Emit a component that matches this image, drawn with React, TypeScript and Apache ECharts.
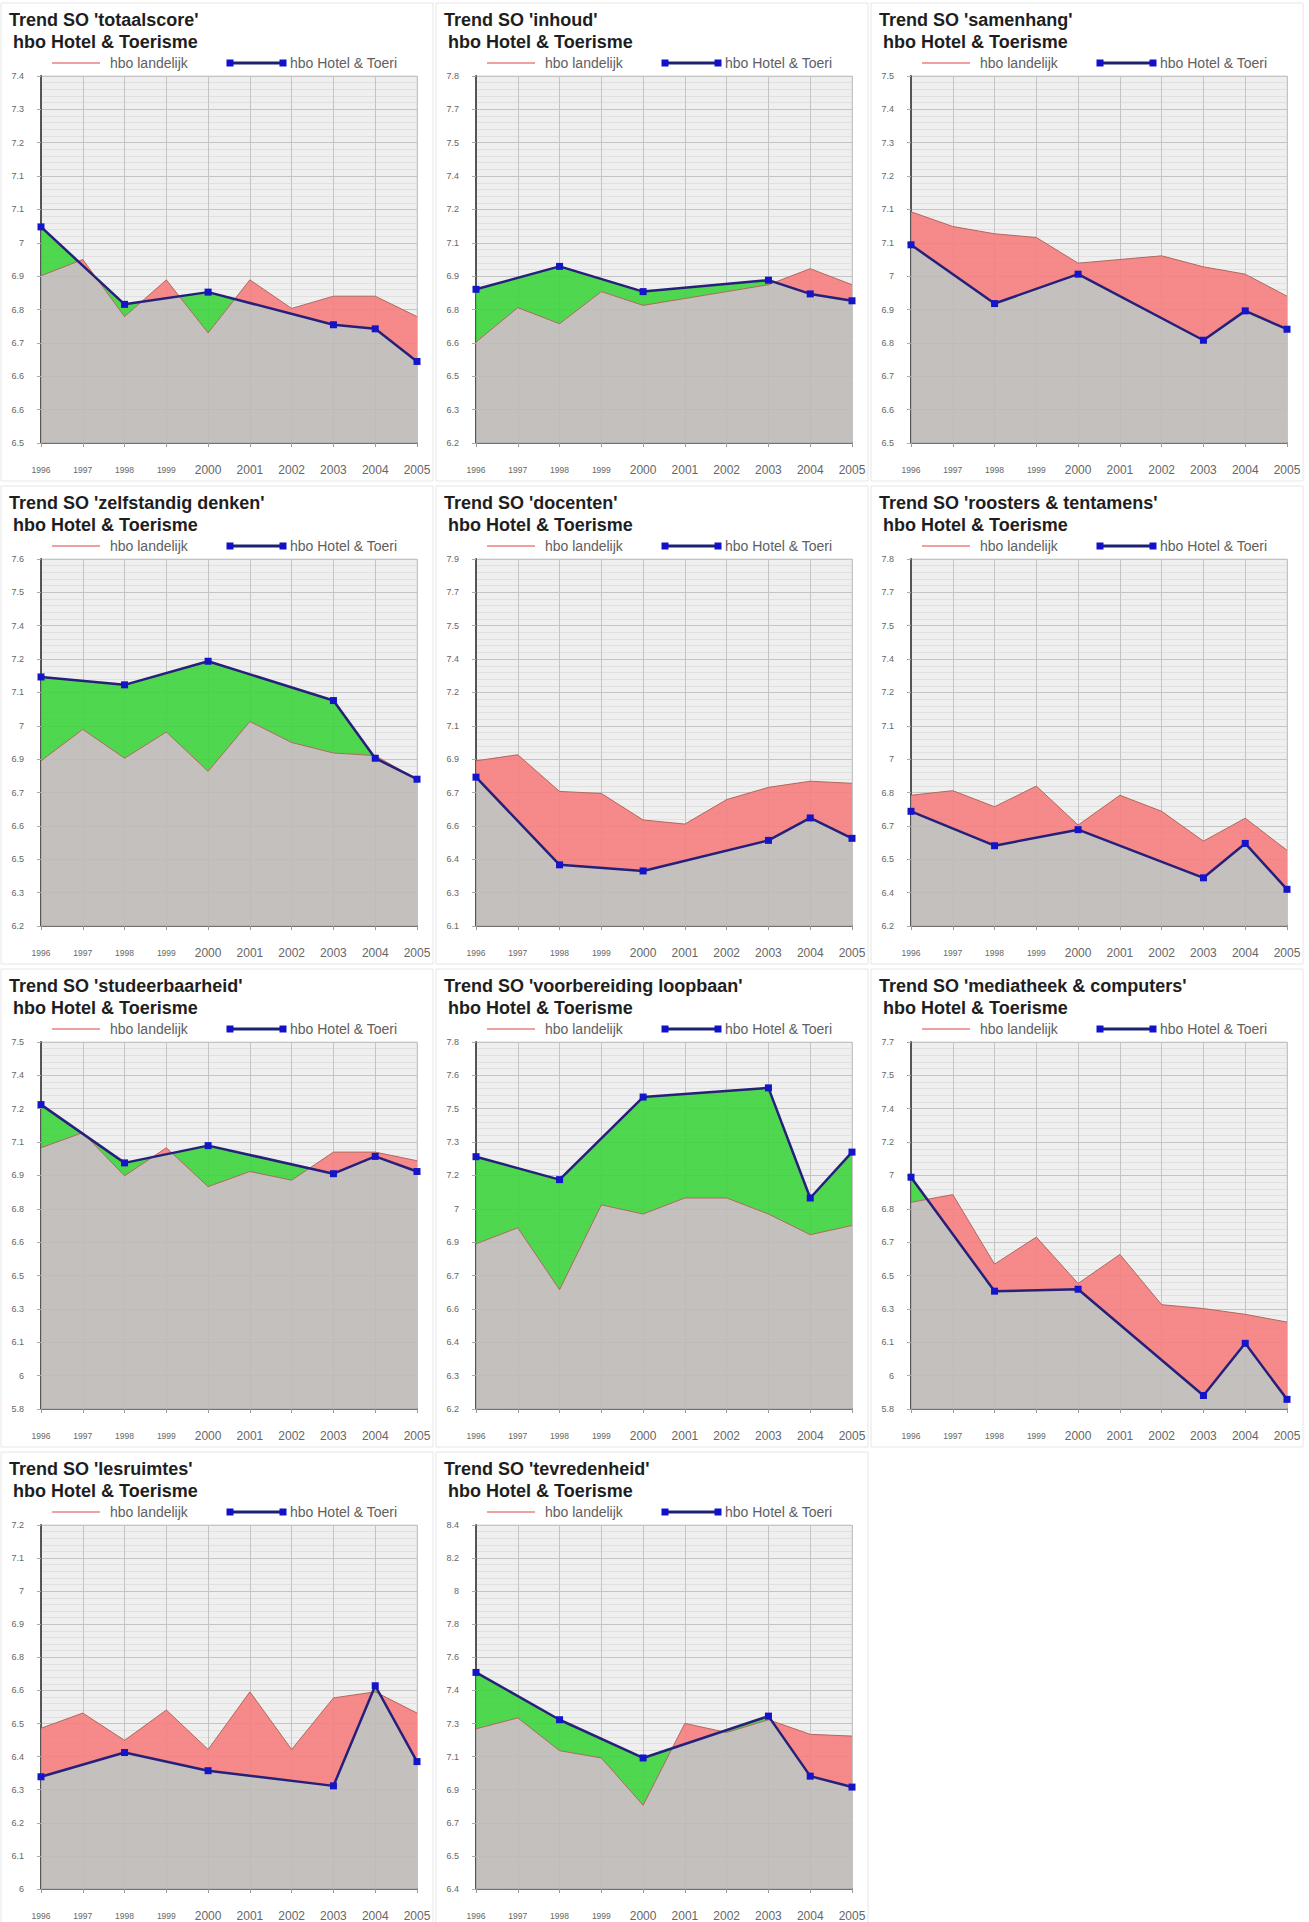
import React, { useEffect, useRef } from 'react';
import * as echarts from 'echarts';

// ---------- DATA ----------
const years = [1996, 1997, 1998, 1999, 2000, 2001, 2002, 2003, 2004, 2005];
const hotelYears = [1996, 1998, 2000, 2003, 2004, 2005];

const titles = [
  "Trend SO 'totaalscore'",
  "Trend SO 'inhoud'",
  "Trend SO 'samenhang'",
  "Trend SO 'zelfstandig denken'",
  "Trend SO 'docenten'",
  "Trend SO 'roosters & tentamens'",
  "Trend SO 'studeerbaarheid'",
  "Trend SO 'voorbereiding loopbaan'",
  "Trend SO 'mediatheek & computers'",
  "Trend SO 'lesruimtes'",
  "Trend SO 'tevredenheid'",
];
const subtitle = 'hbo Hotel & Toerisme';
const legendLandelijk = 'hbo landelijk';
const legendHotel = 'hbo Hotel & Toeri';

const yMin = [6.5, 6.2, 6.5, 6.2, 6.1, 6.2, 5.8, 6.2, 5.8, 6.0, 6.4];
const yMax = [7.4, 7.8, 7.5, 7.6, 7.9, 7.8, 7.5, 7.8, 7.7, 7.2, 8.4];

// tick labels, bottom -> top (12 gridlines)
const ticksTotaalscore = ['6.5', '6.6', '6.6', '6.7', '6.8', '6.9', '7', '7.1', '7.1', '7.2', '7.3', '7.4'];
const ticksInhoud = ['6.2', '6.3', '6.5', '6.6', '6.8', '6.9', '7.1', '7.2', '7.4', '7.5', '7.7', '7.8'];
const ticksSamenhang = ['6.5', '6.6', '6.7', '6.8', '6.9', '7', '7.1', '7.1', '7.2', '7.3', '7.4', '7.5'];
const ticksZelfstandig = ['6.2', '6.3', '6.5', '6.6', '6.7', '6.9', '7', '7.1', '7.2', '7.4', '7.5', '7.6'];
const ticksDocenten = ['6.1', '6.3', '6.4', '6.6', '6.7', '6.9', '7.1', '7.2', '7.4', '7.5', '7.7', '7.9'];
const ticksRoosters = ['6.2', '6.4', '6.5', '6.7', '6.8', '7', '7.1', '7.2', '7.4', '7.5', '7.7', '7.8'];
const ticksStudeerbaarheid = ['5.8', '6', '6.1', '6.3', '6.5', '6.6', '6.8', '6.9', '7.1', '7.2', '7.4', '7.5'];
const ticksLoopbaan = ['6.2', '6.3', '6.4', '6.6', '6.7', '6.9', '7', '7.2', '7.3', '7.5', '7.6', '7.8'];
const ticksMediatheek = ['5.8', '6', '6.1', '6.3', '6.5', '6.7', '6.8', '7', '7.2', '7.4', '7.5', '7.7'];
const ticksLesruimtes = ['6', '6.1', '6.2', '6.3', '6.4', '6.5', '6.6', '6.8', '6.9', '7', '7.1', '7.2'];
const ticksTevredenheid = ['6.4', '6.5', '6.7', '6.9', '7.1', '7.3', '7.4', '7.6', '7.8', '8', '8.2', '8.4'];

// hbo landelijk (all years)
const landelijkTotaalscore = [6.91, 6.95, 6.81, 6.9, 6.77, 6.9, 6.83, 6.86, 6.86, 6.81];
const landelijkInhoud = [6.64, 6.79, 6.72, 6.86, 6.8, 6.83, 6.86, 6.89, 6.96, 6.89];
const landelijkSamenhang = [7.13, 7.09, 7.07, 7.06, 6.99, 7.0, 7.01, 6.98, 6.96, 6.9];
const landelijkZelfstandig = [6.83, 6.95, 6.84, 6.94, 6.79, 6.98, 6.9, 6.86, 6.85, 6.76];
const landelijkDocenten = [6.91, 6.94, 6.76, 6.75, 6.62, 6.6, 6.72, 6.78, 6.81, 6.8];
const landelijkRoosters = [6.77, 6.79, 6.72, 6.81, 6.64, 6.77, 6.7, 6.57, 6.67, 6.53];
const landelijkStudeerbaarheid = [7.01, 7.08, 6.88, 7.01, 6.83, 6.9, 6.86, 6.99, 6.99, 6.95];
const landelijkLoopbaan = [6.92, 6.99, 6.72, 7.09, 7.05, 7.12, 7.12, 7.05, 6.96, 7.0];
const landelijkMediatheek = [6.87, 6.91, 6.55, 6.69, 6.45, 6.6, 6.34, 6.32, 6.29, 6.25];
const landelijkLesruimtes = [6.53, 6.58, 6.49, 6.59, 6.46, 6.65, 6.46, 6.63, 6.65, 6.58];
const landelijkTevredenheid = [7.28, 7.34, 7.16, 7.12, 6.86, 7.31, 7.26, 7.33, 7.25, 7.24];

// hbo Hotel & Toerisme (hotelYears only)
const hotelTotaalscore = [7.03, 6.84, 6.87, 6.79, 6.78, 6.7];
const hotelInhoud = [6.87, 6.97, 6.86, 6.91, 6.85, 6.82];
const hotelSamenhang = [7.04, 6.88, 6.96, 6.78, 6.86, 6.81];
const hotelZelfstandig = [7.15, 7.12, 7.21, 7.06, 6.84, 6.76];
const hotelDocenten = [6.83, 6.4, 6.37, 6.52, 6.63, 6.53];
const hotelRoosters = [6.7, 6.55, 6.62, 6.41, 6.56, 6.36];
const hotelStudeerbaarheid = [7.21, 6.94, 7.02, 6.89, 6.97, 6.9];
const hotelLoopbaan = [7.3, 7.2, 7.56, 7.6, 7.12, 7.32];
const hotelMediatheek = [7.0, 6.41, 6.42, 5.87, 6.14, 5.85];
const hotelLesruimtes = [6.37, 6.45, 6.39, 6.34, 6.67, 6.42];
const hotelTevredenheid = [7.59, 7.33, 7.12, 7.35, 7.02, 6.96];

const tickLabels = [ticksTotaalscore, ticksInhoud, ticksSamenhang, ticksZelfstandig, ticksDocenten, ticksRoosters,
  ticksStudeerbaarheid, ticksLoopbaan, ticksMediatheek, ticksLesruimtes, ticksTevredenheid];
const landelijk = [landelijkTotaalscore, landelijkInhoud, landelijkSamenhang, landelijkZelfstandig, landelijkDocenten,
  landelijkRoosters, landelijkStudeerbaarheid, landelijkLoopbaan, landelijkMediatheek, landelijkLesruimtes, landelijkTevredenheid];
const hotel = [hotelTotaalscore, hotelInhoud, hotelSamenhang, hotelZelfstandig, hotelDocenten, hotelRoosters,
  hotelStudeerbaarheid, hotelLoopbaan, hotelMediatheek, hotelLesruimtes, hotelTevredenheid];

// ---------- LAYOUT / STYLE ----------
const W = 1309;
const H = 1922;
const colX = [0, 435, 870];
const plotTops = [76, 559, 1042, 1525];
const plotLeft = 41;
const plotW = 376;
const plotH = 367;
const FONT = '"Liberation Sans", Arial, Helvetica, sans-serif';
const GRAY = 'rgba(190,186,183,0.88)';
const GREEN = 'rgba(62,212,62,0.9)';
const RED = 'rgba(246,126,126,0.9)';

function interpHotel(h: number[], x: number): number {
  for (let k = 0; k < hotelYears.length - 1; k++) {
    const x0 = hotelYears[k];
    const x1 = hotelYears[k + 1];
    if (x >= x0 && x <= x1) {
      const t = (x - x0) / (x1 - x0);
      return h[k] + t * (h[k + 1] - h[k]);
    }
  }
  return NaN;
}

// envelope points [x, landelijk, hotel] including line crossings
function buildEnvelope(l: number[], h: number[]): number[][] {
  const pts: number[][] = [];
  for (let k = 0; k < years.length; k++) {
    const x = years[k];
    const lv = l[k];
    const hv = interpHotel(h, x);
    if (k > 0) {
      const px = years[k - 1];
      const pl = l[k - 1];
      const ph = interpHotel(h, px);
      const d0 = ph - pl;
      const d1 = hv - lv;
      if (d0 * d1 < 0) {
        const t = d0 / (d0 - d1);
        const cy = pl + t * (lv - pl);
        pts.push([px + t * (x - px), cy, cy]);
      }
    }
    pts.push([x, lv, hv]);
  }
  return pts;
}

function makeRenderItem(env: number[][], bottom: number) {
  return (params: any, api: any) => {
    if (params.dataIndex !== 0) return null;
    const children: any[] = [];
    const grayPts = env.map((p) => api.coord([p[0], Math.min(p[1], p[2])]));
    grayPts.push(api.coord([env[env.length - 1][0], bottom]));
    grayPts.push(api.coord([env[0][0], bottom]));
    children.push({ type: 'polygon', shape: { points: grayPts }, style: { fill: GRAY } });

    // band runs between the two lines
    const segSign = (k: number) => {
      const a = env[k][2] - env[k][1];
      const b = env[k + 1][2] - env[k + 1][1];
      const s = Math.abs(a) > Math.abs(b) ? a : b;
      return s > 1e-9 ? 1 : s < -1e-9 ? -1 : 0;
    };
    let k = 0;
    while (k < env.length - 1) {
      const s = segSign(k);
      let e = k;
      while (e < env.length - 1 && segSign(e) === s) e++;
      if (s !== 0) {
        const upper: number[][] = [];
        const lower: number[][] = [];
        for (let j = k; j <= e; j++) {
          upper.push(api.coord([env[j][0], env[j][2]]));
          lower.push(api.coord([env[j][0], env[j][1]]));
        }
        const points = upper.concat(lower.reverse());
        children.push({ type: 'polygon', shape: { points }, style: { fill: s > 0 ? GREEN : RED } });
      }
      k = e;
    }
    return { type: 'group', children };
  };
}

function buildOption() {
  const grids: any[] = [];
  const xAxes: any[] = [];
  const yAxes: any[] = [];
  const series: any[] = [];
  const graphics: any[] = [];

  titles.forEach((title, i) => {
    const c = i % 3;
    const r = Math.floor(i / 3);
    const left = colX[c] + plotLeft;
    const top = plotTops[r];

    grids.push({
      left,
      top,
      width: plotW,
      height: plotH,
      show: true,
      backgroundColor: '#efefef',
      borderColor: '#d6d6d6',
      borderWidth: 1,
    });

    xAxes.push({
      type: 'value',
      gridIndex: i,
      min: 1996,
      max: 2005,
      interval: 1,
      axisLine: { show: true, onZero: false, lineStyle: { color: '#555', width: 1.5 } },
      axisTick: { show: true, length: 4, lineStyle: { color: '#999' } },
      splitLine: { show: true, lineStyle: { color: '#c4c4c4', width: 1 } },
      axisLabel: {
        margin: 20,
        showMinLabel: true,
        showMaxLabel: true,
        formatter: (v: number) => (v < 2000 ? `{s|${v}}` : `{b|${v}}`),
        rich: {
          s: { fontSize: 8.5, color: '#666', fontFamily: FONT, lineHeight: 14 },
          b: { fontSize: 12, color: '#666', fontFamily: FONT, lineHeight: 14 },
        },
      },
    });

    // data axis (hidden)
    yAxes.push({
      type: 'value',
      gridIndex: i,
      position: 'left',
      min: yMin[i],
      max: yMax[i],
      show: false,
      splitLine: { show: false },
    });
    // label axis (12 gridlines)
    const labels = tickLabels[i];
    yAxes.push({
      type: 'value',
      gridIndex: i,
      position: 'left',
      min: 0,
      max: labels.length - 1,
      interval: 1,
      axisLine: { show: true, lineStyle: { color: '#555', width: 2 } },
      axisTick: { show: true, length: 4, lineStyle: { color: '#aaa' } },
      axisLabel: {
        margin: 17,
        fontSize: 9,
        color: '#666',
        fontFamily: FONT,
        formatter: (v: number) => labels[Math.round(v)] ?? '',
      },
      splitLine: { show: true, lineStyle: { color: '#c4c4c4', width: 1 } },
      minorTick: { show: false, splitNumber: 5 },
      minorSplitLine: { show: true, lineStyle: { color: '#e0e0e0', width: 1 } },
    });

    const l = landelijk[i];
    const h = hotel[i];
    const env = buildEnvelope(l, h);
    series.push({
      type: 'custom',
      name: 'vlakken',
      xAxisIndex: i,
      yAxisIndex: 2 * i,
      silent: true,
      z: 2,
      clip: true,
      data: env,
      encode: { x: 0, y: [1, 2] },
      renderItem: makeRenderItem(env, yMin[i]),
    });
    series.push({
      type: 'line', name: legendLandelijk, xAxisIndex: i, yAxisIndex: 2 * i,
      data: years.map((y, k) => [y, l[k]]), symbol: 'none', silent: true, z: 3,
      lineStyle: { color: '#b0685c', width: 1 },
    });
    series.push({
      type: 'line', name: legendHotel, xAxisIndex: i, yAxisIndex: 2 * i,
      data: hotelYears.map((y, k) => [y, h[k]]), symbol: 'rect', symbolSize: 7, showSymbol: true,
      silent: true, z: 4,
      itemStyle: { color: '#1414c8' },
      lineStyle: { color: '#26207a', width: 2.5 },
    });

    // headers
    const px = colX[c];
    graphics.push({
      type: 'rect', silent: true, z: -1,
      shape: { x: px + 1, y: top - 73, width: 432, height: 478 },
      style: { fill: 'none', stroke: '#e6e6e6', lineWidth: 1 },
    });
    graphics.push({
      type: 'text', x: px + 9, y: top - 56,
      style: { text: title, fontSize: 18, fontWeight: 'bold', fontFamily: FONT, fill: '#1e1e1e', verticalAlign: 'middle' },
    });
    graphics.push({
      type: 'text', x: px + 13, y: top - 34,
      style: { text: subtitle, fontSize: 18, fontWeight: 'bold', fontFamily: FONT, fill: '#1e1e1e', verticalAlign: 'middle' },
    });
    const ly = top - 13;
    graphics.push({
      type: 'line', shape: { x1: px + 52, y1: ly, x2: px + 100, y2: ly },
      style: { stroke: '#f0a0a0', lineWidth: 2 },
    });
    graphics.push({
      type: 'text', x: px + 110, y: ly,
      style: { text: legendLandelijk, fontSize: 14, fontFamily: FONT, fill: '#606060', verticalAlign: 'middle' },
    });
    graphics.push({
      type: 'line', shape: { x1: px + 230, y1: ly, x2: px + 283, y2: ly },
      style: { stroke: '#1c2270', lineWidth: 3 },
    });
    graphics.push({
      type: 'rect', shape: { x: px + 226.5, y: ly - 3.5, width: 7, height: 7 },
      style: { fill: '#1111cc' },
    });
    graphics.push({
      type: 'rect', shape: { x: px + 279.5, y: ly - 3.5, width: 7, height: 7 },
      style: { fill: '#1111cc' },
    });
    graphics.push({
      type: 'text', x: px + 290, y: ly,
      style: { text: legendHotel, fontSize: 14, fontFamily: FONT, fill: '#606060', verticalAlign: 'middle' },
    });
  });

  return {
    animation: false,
    backgroundColor: '#ffffff',
    grid: grids,
    xAxis: xAxes,
    yAxis: yAxes,
    series,
    graphic: graphics,
  };
}

export default function App() {
  const ref = useRef<HTMLDivElement>(null);
  useEffect(() => {
    if (!ref.current) return;
    const chart = echarts.init(ref.current, undefined, { renderer: 'svg', width: W, height: H });
    chart.setOption(buildOption() as any);
    return () => chart.dispose();
  }, []);
  return (
    <div
      ref={ref}
      style={{ position: 'absolute', left: 0, top: 0, width: W, height: H, background: '#fff' }}
    />
  );
}
